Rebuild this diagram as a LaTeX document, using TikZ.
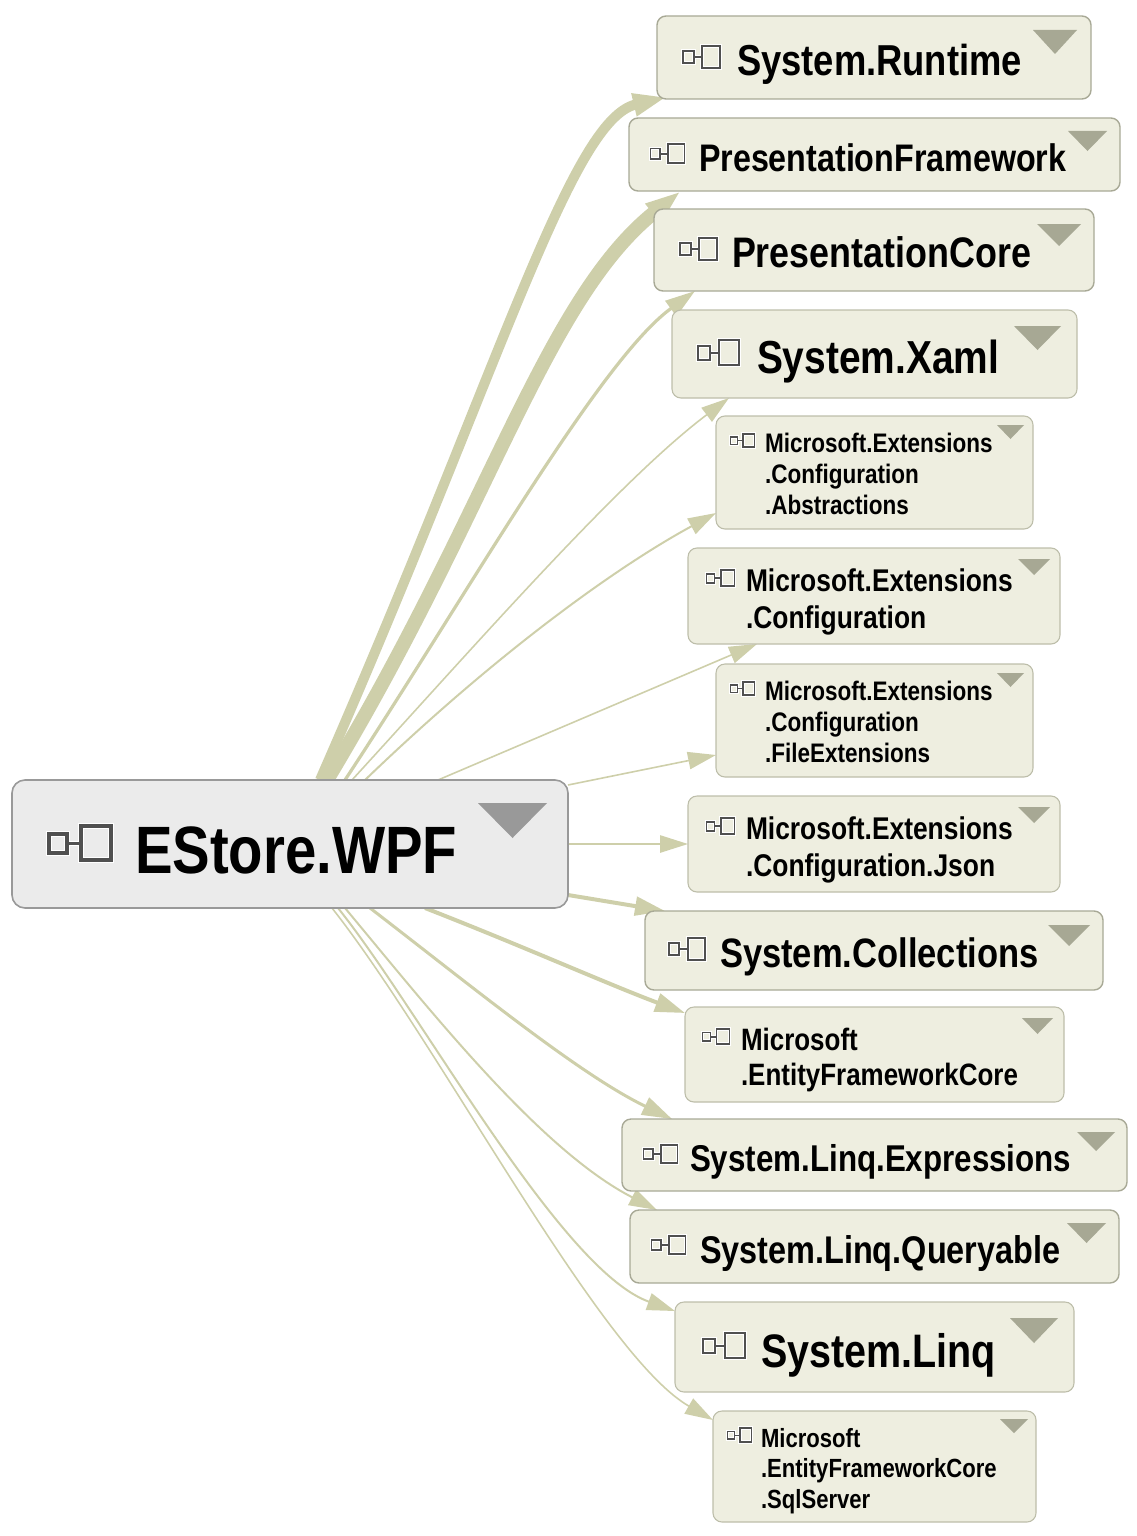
\documentclass[tikz,border=0pt]{standalone}
\usepackage{fontspec}
\setmainfont{Liberation Sans}
\newfontfamily\labfont[FakeStretch=0.84]{Liberation Sans Bold}
\usetikzlibrary{arrows.meta,fit,backgrounds}
\definecolor{edgec}{HTML}{CECFAA}
\definecolor{boxf}{HTML}{EEEEE0}
\definecolor{boxd}{HTML}{BDBEAA}
\definecolor{boxh}{HTML}{A8A996}
\definecolor{trif}{HTML}{A7A894}
\definecolor{mainf}{HTML}{EBEBEB}
\definecolor{maind}{HTML}{999999}
\definecolor{icond}{HTML}{505050}
\tikzset{
  x=1pt,y=-1pt,
  asmbox/.style={draw=boxd,fill=boxf,line width=1.1pt,rounded corners=9pt,inner sep=0pt,outer sep=0pt},
  heavybox/.style={asmbox,draw=boxh,line width=1.4pt},
  rootbox/.style={asmbox,draw=maind,fill=mainf,line width=1.6pt,rounded corners=13pt},
  lab/.style={anchor=base west,inner sep=0pt,outer sep=0pt,align=left,text=black},
  link/.style={draw=edgec,-{Triangle[length=#1,width=#1*0.62]}},
}
\newcommand{\asmnode}[6][asmbox]{\node[#1,fit={(#3,#4) (#5,#6)}] (#2) {};}
\newcommand{\icn}[4]{%
  \pgfmathsetmacro{\ilw}{(#3-#1)*0.045+0.3}
  \begin{scope}[shift={(#1,#2)},xscale={(#3-#1)/64},yscale={(#4-#2)/34},line width=\ilw pt]
    \draw[white,line width=\ilw pt+2pt] (1,8) rectangle (19,27) (19,17.5)--(33,17.5) (33,0) rectangle (63,34);
    \draw[icond] (1,8) rectangle (19,27) (19,17.5)--(33,17.5) (33,0) rectangle (63,34);
  \end{scope}}
\newcommand{\trg}[5][trif]{\fill[#1] (#2,#3) -- (#4,#3) -- ({(#2+#4)/2},#5) -- cycle;}
\newcommand{\txt}[5]{\node[lab,font={\labfont\fontsize{#4}{#5}\selectfont}] at (#1,#2) {#3};}
\begin{document}
\begin{tikzpicture}
\useasboundingbox (0,0) rectangle (1137,1536);
\asmnode[rootbox]{estore}{12}{780}{568}{908}
\icn{48}{826}{112}{860}\trg[maind]{478}{803}{547}{838}
\txt{135}{873}{EStore.WPF}{67}{67}

\asmnode[heavybox]{runtime}{657}{16}{1091}{99}
\icn{682}{46}{721}{68}\trg{1033}{30}{1077}{54}
\txt{737}{76}{System.Runtime}{43.3}{43.3}

\asmnode[heavybox]{pframe}{629}{118}{1120}{191}
\icn{650}{144}{685}{163}\trg{1068}{131}{1107}{151}
\txt{699}{171}{PresentationFramework}{38.4}{38.4}

\asmnode[heavybox]{pcore}{654}{209}{1094}{291}
\icn{679}{238}{718}{260}\trg{1037}{224}{1081}{246}
\txt{732}{267}{PresentationCore}{42.7}{42.7}

\asmnode{xaml}{672}{310}{1077}{398}
\icn{697}{340}{740}{365}\trg{1014}{326}{1061}{350}
\txt{757}{373}{System.Xaml}{46.3}{46.3}

\asmnode{mea}{716}{416}{1033}{529}
\icn{730}{434}{755}{447}\trg{997}{425}{1024}{439}
\txt{765}{514}{Microsoft.Extensions\\.Configuration\\.Abstractions}{26.8}{31}

\asmnode{mec}{688}{548}{1060}{644}
\icn{706}{570}{735}{586}\trg{1018}{559}{1050}{575}
\txt{746}{628}{Microsoft.Extensions\\.Configuration}{31.4}{37}

\asmnode{mef}{716}{664}{1033}{777}
\icn{730}{682}{755}{695}\trg{997}{673}{1024}{687}
\txt{765}{762}{Microsoft.Extensions\\.Configuration\\.FileExtensions}{26.8}{31}

\asmnode{mej}{688}{796}{1060}{892}
\icn{706}{818}{735}{834}\trg{1018}{807}{1050}{823}
\txt{746}{876}{Microsoft.Extensions\\.Configuration.Json}{31.4}{37}

\asmnode[heavybox]{coll}{645}{911}{1103}{990}
\icn{668}{938}{706}{960}\trg{1048}{925}{1090}{946}
\txt{720}{967}{System.Collections}{41.1}{41.1}

\asmnode{efc}{685}{1007}{1064}{1102}
\icn{702}{1029}{730}{1044}\trg{1022}{1018}{1053}{1034}
\txt{741}{1085}{Microsoft\\.EntityFrameworkCore}{30.9}{35}

\asmnode[heavybox]{lexp}{622}{1119}{1127}{1191}
\icn{643}{1145}{678}{1163}\trg{1077}{1132}{1115}{1151}
\txt{690}{1171}{System.Linq.Expressions}{37.3}{37.3}

\asmnode[heavybox]{lqry}{630}{1210}{1119}{1283}
\icn{651}{1236}{686}{1254}\trg{1067}{1223}{1106}{1243}
\txt{700}{1263}{System.Linq.Queryable}{38.6}{38.6}

\asmnode{linq}{675}{1302}{1074}{1392}
\icn{702}{1333}{746}{1358}\trg{1010}{1318}{1058}{1343}
\txt{761}{1367}{System.Linq}{47}{47}

\asmnode{sql}{713}{1411}{1036}{1522}
\icn{727}{1428}{752}{1442}\trg{1000}{1419}{1028}{1433}
\txt{761}{1508}{Microsoft\\.EntityFrameworkCore\\.SqlServer}{26.3}{30.5}

\begin{scope}[on background layer]
\draw[link=34,line width=10pt] ([xshift=30pt]estore.north) .. controls (500,370) and (570,120) .. ([xshift=10pt,yshift=2pt]runtime.south west);
\draw[link=36,line width=14pt] ([xshift=37pt]estore.north) .. controls (490,510) and (545,300) .. ([xshift=52pt]pframe.south west);
\draw[link=30,line width=3.2pt] ([xshift=55pt]estore.north) .. controls (470,590) and (600,360) .. ([xshift=41pt]pcore.south west);
\draw[link=28,line width=1.6pt] ([xshift=62pt]estore.north) .. controls (480,640) and (620,480) .. ([xshift=57pt]xaml.south west);
\draw[link=28,line width=2pt] ([xshift=75pt]estore.north) .. controls (500,650) and (620,565) .. ([yshift=16pt]mea.south west);
\draw[link=28,line width=1.6pt] ([xshift=148pt]estore.north) -- ([xshift=69pt]mec.south west);
\draw[link=28,line width=1.6pt] ([yshift=-5pt]estore.north east) -- ([yshift=22pt]mef.south west);
\draw[link=28,line width=1.6pt] ([yshift=0pt]estore.east) -- ([yshift=0pt]mej.west);
\draw[link=30,line width=4pt] ([yshift=13pt]estore.south east) -- ([xshift=20pt]coll.north west);
\draw[link=30,line width=4pt] ([xshift=135pt]estore.south) .. controls (520,945) and (610,985) .. ([yshift=-6pt]efc.north west);
\draw[link=30,line width=3pt] ([xshift=80pt]estore.south) .. controls (470,985) and (580,1075) .. ([xshift=50pt]lexp.north west);
\draw[link=28,line width=2pt] ([xshift=55pt]estore.south) .. controls (430,1010) and (540,1150) .. ([xshift=27pt]lqry.north west);
\draw[link=28,line width=2pt] ([xshift=48pt]estore.south) .. controls (420,1010) and (560,1270) .. ([yshift=-9pt]linq.north west);
\draw[link=28,line width=1.6pt] ([xshift=42pt]estore.south) .. controls (440,1045) and (600,1355) .. ([yshift=-9pt]sql.north west);
\end{scope}
\end{tikzpicture}
\end{document}
